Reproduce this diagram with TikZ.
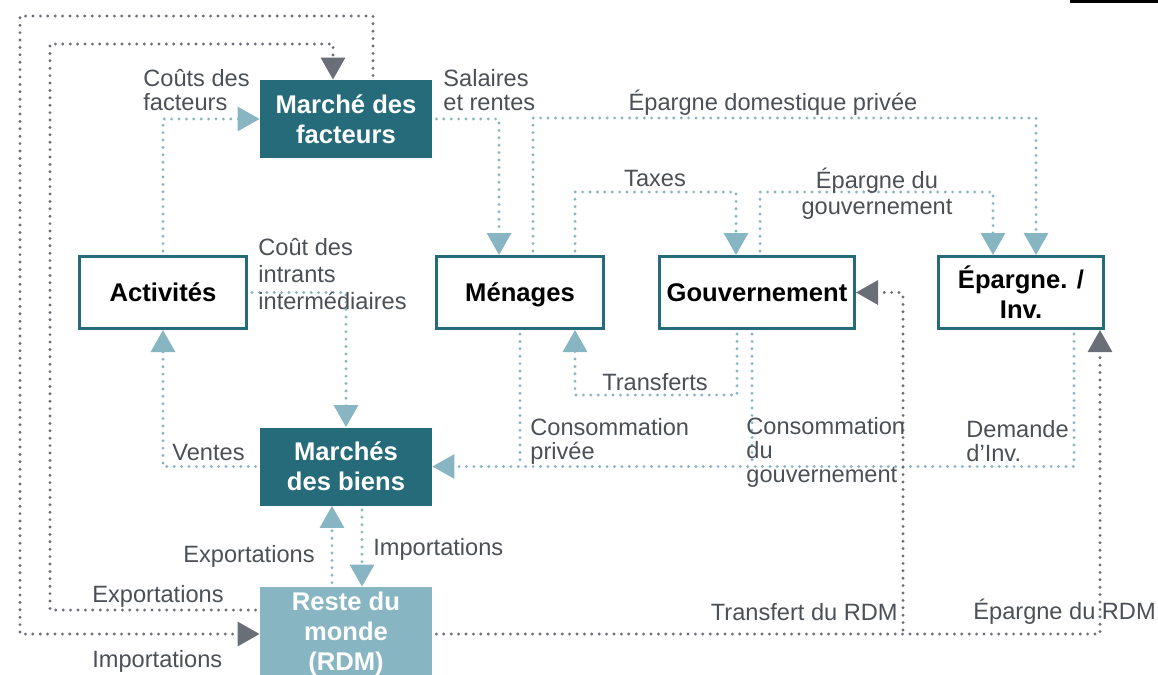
\documentclass[tikz,border=0pt]{standalone}
\usepackage{fontspec}
\setmainfont{Liberation Sans}
\usepackage{tikz}
\usetikzlibrary{arrows.meta,positioning,calc}
\tikzset{
  market/.style={rectangle, fill=cgedark, text=white, align=center,
                 font=\fontsize{12.8}{15}\selectfont\bfseries,
                 minimum width=86pt, minimum height=39pt, inner sep=2pt},
  agent/.style={rectangle, draw=cgedark, line width=1.5pt, fill=white, text=black,
                align=center, font=\fontsize{12.8}{15}\selectfont\bfseries,
                text depth=0pt, minimum width=83.5pt, minimum height=36pt, inner sep=2pt},
  lbl/.style={text=cgetext, align=left, font=\fontsize{11.8}{12}\selectfont, inner sep=0pt},
  link/.style={draw=cgelight, line width=1.6pt, line cap=round,
               dash pattern=on 0pt off 3.7pt, shorten <=2pt},
  flow/.style={link, -{Triangle[length=11pt,width=12pt]}},
  glink/.style={link, draw=cgegray},
  gflow/.style={flow, draw=cgegray},
}
\begin{document}
\begin{tikzpicture}[x=0.5pt, y=-0.5pt]
    \definecolor{cgedark}{RGB}{37,107,122}
    \definecolor{cgelight}{RGB}{135,182,194}
    \definecolor{cgegray}{RGB}{106,110,118}
    \definecolor{cgetext}{RGB}{75,79,86}
    \useasboundingbox (0,0) rectangle (1158,675);
    \fill[black] (1070,0) rectangle (1158,3);

    \node[market] (facteurs) at (346,119) {Marché des\\facteurs};
    \node[agent] (act) at (163,292.5) {Activités};
    \node[agent] (men) at (520,292.5) {Ménages};
    \node[agent, minimum width=97.5pt] (gov) at (757,292.5) {Gouvernement};
    \node[agent, minimum width=82.5pt] (epa) at (1021,292.5) {Épargne. /\\Inv.};
    \node[market] (biens) at (346,466.5) {Marchés\\des biens};
    \node[market, fill=cgelight, minimum height=47pt] (rdm) at (346,634) {Reste du\\monde\\(RDM)};

    \coordinate (gc) at ($(gov.south)+(-5,0)$);
    \coordinate (gx) at ($(gov.east)+(47,0)$);
    \coordinate (ex) at ($(epa.south)+(79,0)$);

    \draw[flow] (act.north) |- (facteurs.west);
    \draw[flow] (facteurs.east) -| ($(men.north)+(-21,0)$);
    \draw[flow] ($(men.north)+(13,0)$) -- ++(0,-137) -| ($(epa.north)+(15,0)$);
    \draw[flow] ($(men.north)+(55,0)$) -- ++(0,-63) -| ($(gov.north)+(-21,0)$);
    \draw[flow] ($(gov.north)+(3,0)$) -- ++(0,-63) -| ($(epa.north)+(-28,0)$);
    \draw[flow] (act.east) -| (biens.north);
    \draw[flow] (biens.west) -| (act.south);
    \draw[flow] ($(epa.south)+(53,0)$) |- (biens.east);
    \draw[link] (men.south) -- (men.south |- biens.east);
    \draw[link] (gc) -- (gc |- biens.east);
    \draw[flow] ($(gov.south)+(-20,0)$) -- ++(0,65) -| ($(men.south)+(55,0)$);
    \draw[flow] ($(biens.south)+(16,0)$) -- ($(rdm.north)+(16,0)$);
    \draw[flow] ($(rdm.north)+(-14,0)$) -- ($(biens.south)+(-14,0)$);

    \draw[gflow] ($(rdm.west)+(0,-24)$) -| (50,44) -| ($(facteurs.north)+(-13,0)$);
    \draw[gflow] ($(facteurs.north)+(27,0)$) |- (20,16) |- (rdm.west);
    \draw[gflow] (rdm.east) -| (ex);
    \draw[glink] (gx |- rdm.east) -- (gx);
    \draw[gflow] (gx) -- (gov.east);

    \node[lbl, anchor=west] (lcouts) at (143,90) {Coûts des\\facteurs};
    \node[lbl, anchor=west] (lsal) at (443,90) {Salaires\\et rentes};
    \node[lbl] (ledp) at (773,103) {Épargne domestique privée};
    \node[lbl] (ltax) at (655,178) {Taxes};
    \node[lbl, align=center, font=\fontsize{11.8}{13}\selectfont] (legov) at (877,194) {Épargne du\\gouvernement};
    \node[lbl, anchor=west, font=\fontsize{11.8}{13.3}\selectfont] (lint) at (258,274) {Coût des\\intrants\\intermédiaires};
    \node[lbl, anchor=west] (lvent) at (172,452) {Ventes};
    \node[lbl, anchor=west] (lcp) at (530,441) {Consommation\\privée};
    \node[lbl] (ltrans) at (655,382) {Transferts};
    \node[lbl, anchor=west] (lcg) at (746,452) {Consommation\\du\\gouvernement};
    \node[lbl, anchor=west] (ldem) at (966,441) {Demande\\d’Inv.};
    \node[lbl, anchor=west] (limp) at (373,549) {Importations};
    \node[lbl, anchor=east] (lexp) at (315,556) {Exportations};
    \node[lbl, anchor=west] (lexpw) at (92,596) {Exportations};
    \node[lbl, anchor=west] (limpw) at (92,661) {Importations};
    \node[lbl, anchor=east] (ltrdm) at (898,612) {Transfert du RDM};
    \node[lbl, anchor=west] (lerdm) at (973,612) {Épargne du RDM};
\end{tikzpicture}
\end{document}
